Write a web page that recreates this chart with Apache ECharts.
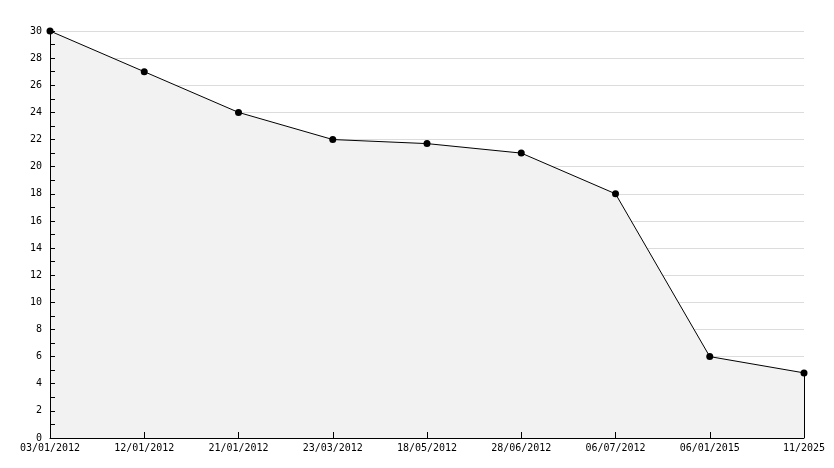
<!DOCTYPE html>
<html><head><meta charset="utf-8">
<script src="https://cdn.jsdelivr.net/npm/echarts@6/dist/echarts.min.js"></script>
<style>html,body{margin:0;padding:0;background:#fff}#c{width:834px;height:468px}</style>
</head><body><div id="c"></div>
<script>
const categories = ['03/01/2012','12/01/2012','21/01/2012','23/03/2012','18/05/2012','28/06/2012','06/07/2012','06/01/2015','11/2025'];
const values = [30, 27, 24, 22, 21.7, 21, 18, 6, 4.8];
const yTicks = {min: 0, max: 30, interval: 2};

const font = {fontFamily: 'DejaVu Sans Mono', fontSize: 10, color: '#000'};
const chart = echarts.init(document.getElementById('c'), null, {renderer: 'canvas'});
const lastIdx = categories.length - 1;
chart.setOption({
  animation: false,
  backgroundColor: '#fff',
  grid: {left: 50, right: 30, top: 31, bottom: 30, containLabel: false},
  xAxis: {
    type: 'category', data: categories, boundaryGap: false, z: 10,
    axisLine: {show: true, lineStyle: {color: '#000', width: 1}},
    axisTick: {show: true, inside: true, length: 6, lineStyle: {color: '#000'}},
    axisLabel: Object.assign({margin: 5, interval: 0}, font),
    splitLine: {show: false}
  },
  yAxis: [{
    type: 'value', min: yTicks.min, max: yTicks.max, interval: yTicks.interval, z: 0,
    axisLine: {show: false}, axisTick: {show: false}, axisLabel: {show: false},
    splitLine: {show: true, lineStyle: {color: '#dcdcdc', width: 1}}
  }, {
    type: 'value', min: yTicks.min, max: yTicks.max, interval: yTicks.interval, z: 10,
    position: 'left',
    axisLine: {show: true, onZero: false, lineStyle: {color: '#000', width: 1}},
    axisTick: {show: true, inside: true, length: 5, lineStyle: {color: '#000'}},
    minorTick: {show: true, splitNumber: 2, length: 5, lineStyle: {color: '#000'}},
    axisLabel: Object.assign({margin: 8}, font),
    splitLine: {show: false}
  }],
  series: [{
    type: 'line', data: values, yAxisIndex: 0,
    symbol: 'circle', symbolSize: 7,
    itemStyle: {color: '#000'},
    lineStyle: {color: '#000', width: 1},
    areaStyle: {color: '#f2f2f2', opacity: 1},
    markLine: {
      silent: true, symbol: 'none', label: {show: false},
      lineStyle: {color: '#000', width: 1, type: 'solid'},
      data: [[{coord: [lastIdx, 0]}, {coord: [lastIdx, values[lastIdx]]}]]
    }
  }]
});
</script></body></html>
